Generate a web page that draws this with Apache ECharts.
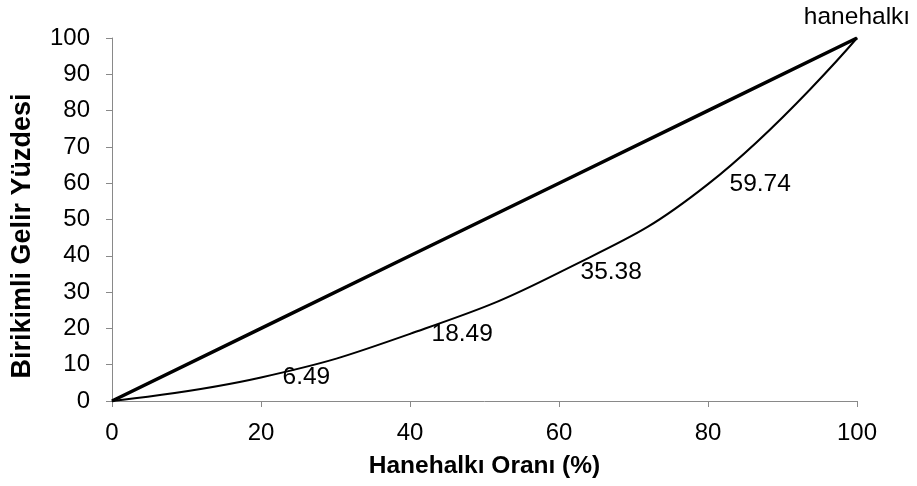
<!DOCTYPE html>
<html>
<head>
<meta charset="utf-8">
<script src="https://cdn.jsdelivr.net/npm/echarts@6/dist/echarts.min.js"></script>
<style>
html,body{margin:0;padding:0;background:#fff;}
#chart{width:917px;height:486px;}
</style>
</head>
<body>
<div id="chart"></div>
<script>
var householdShare = [0, 20, 40, 60, 80, 100];
var incomeShare = [0, 6.49, 18.49, 35.38, 59.74, 100];
var equalityLine = [0, 20, 40, 60, 80, 100];
var seriesName = 'hanehalkı';
var xTitle = 'Hanehalkı Oranı (%)';
var yTitle = 'Birikimli Gelir Yüzdesi';

var FONT = 'Liberation Sans, Arial, sans-serif';

var curveData = householdShare.map(function (x, i) {
  var item = { value: [x, incomeShare[i]] };
  if (i === householdShare.length - 1) {
    item.label = { show: true, position: 'top', distance: 8, formatter: seriesName };
  } else if (i > 0) {
    item.label = { show: true, position: 'right', distance: 21, formatter: function (p) { return p.value[1].toFixed(2); } };
  } else {
    item.label = { show: false };
  }
  return item;
});
var diagData = householdShare.map(function (x, i) { return [x, equalityLine[i]]; });

var chart = echarts.init(document.getElementById('chart'), null, { renderer: 'canvas' });
chart.setOption({
  animation: false,
  backgroundColor: '#ffffff',
  grid: { left: 112, right: 60, top: 38, bottom: 85, containLabel: false },
  graphic: [{
    type: 'text',
    x: 23, y: 236,
    rotation: Math.PI / 2,
    style: {
      text: yTitle,
      fontFamily: FONT, fontSize: 27, fontWeight: 'bold', fill: '#000',
      align: 'center', verticalAlign: 'middle'
    }
  }],
  xAxis: {
    type: 'value', min: 0, max: 100, interval: 20,
    name: xTitle, nameLocation: 'middle', nameGap: 53,
    nameTextStyle: { fontFamily: FONT, fontSize: 24.5, fontWeight: 'bold', color: '#000' },
    axisLine: { show: true, lineStyle: { color: '#898989', width: 1 } },
    axisTick: { show: true, inside: false, length: 6, lineStyle: { color: '#898989' } },
    axisLabel: { fontFamily: FONT, fontSize: 24, color: '#000', margin: 20 },
    splitLine: { show: false }
  },
  yAxis: {
    type: 'value', min: 0, max: 100, interval: 10,
    axisLine: { show: true, lineStyle: { color: '#898989', width: 1 } },
    axisTick: { show: true, inside: false, length: 6, lineStyle: { color: '#898989' } },
    axisLabel: { fontFamily: FONT, fontSize: 24, color: '#000', margin: 22 },
    splitLine: { show: false }
  },
  series: [
    {
      type: 'line', name: 'equality', data: diagData,
      symbol: 'none', lineStyle: { color: '#000', width: 3.5 }, z: 3
    },
    {
      type: 'line', name: seriesName, data: curveData,
      smooth: 0.45,
      showSymbol: true, symbol: 'circle', symbolSize: 1,
      itemStyle: { color: '#000' },
      lineStyle: { color: '#000', width: 2 },
      label: { fontFamily: FONT, fontSize: 24.5, color: '#000' },
      z: 2
    }
  ]
});
</script>
</body>
</html>
